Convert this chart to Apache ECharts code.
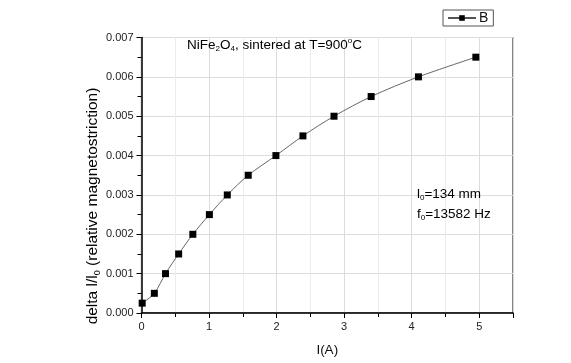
<!DOCTYPE html>
<html><head><meta charset="utf-8">
<script src="https://cdn.jsdelivr.net/npm/echarts@6/dist/echarts.min.js"></script>
<style>html,body{margin:0;padding:0;background:#fff}#c{width:571px;height:363px}</style>
</head><body><div id="c"></div>
<script>
var currentA = [0.01, 0.19, 0.355, 0.55, 0.76, 1.005, 1.27, 1.58, 1.99, 2.39, 2.85, 3.40, 4.10, 4.95];
var deltaL = [0.00025, 0.0005, 0.001, 0.0015, 0.002, 0.0025, 0.003, 0.0035, 0.004, 0.0045, 0.005, 0.0055, 0.006, 0.0065];
var seriesName = 'B';
var xTicks = [0, 1, 2, 3, 4, 5];
var yTicks = ['0.000','0.001','0.002','0.003','0.004','0.005','0.006','0.007'];

var F = 'Liberation Sans, Arial, sans-serif';
var data = currentA.map(function(x, i){ return [x, deltaL[i]]; });
var chart = echarts.init(document.getElementById('c'), null, {renderer:'canvas'});
chart.setOption({
  animation: false,
  backgroundColor: '#fff',
  grid: {left: 141.5, right: 58, top: 37.5, bottom: 50, show: true, borderColor: '#333', borderWidth: 1.2, backgroundColor: 'transparent'},
  legend: {
    data: [seriesName], left: 443, top: 10, itemWidth: 28, itemHeight: 7, itemGap: 4,
    borderColor: '#555', borderWidth: 1, padding: [1, 5, 1, 4], borderRadius: 0,
    textStyle: {fontFamily: F, fontSize: 14, color: '#111', padding: [0,0,0,-2]}
  },
  xAxis: {
    type: 'value', min: 0, max: 5.5, interval: 1,
    name: 'I(A)', nameLocation: 'middle', nameGap: 30,
    nameTextStyle: {fontFamily: F, fontSize: 13.5, color: '#111'},
    axisLine: {show: true, onZero: false, lineStyle: {color: '#000', width: 1.5}},
    axisTick: {show: true, inside: false, length: 5, lineStyle: {color: '#000', width: 1}},
    minorTick: {show: true, splitNumber: 2, length: 4, lineStyle: {color: '#000', width: 1}},
    axisLabel: {fontFamily: F, fontSize: 11, color: '#222', margin: 8, showMaxLabel: false,
      formatter: function(v){ return xTicks.indexOf(v) >= 0 ? String(v) : ''; }},
    splitLine: {show: true, lineStyle: {color: '#dcdcdc', width: 1}},
    minorSplitLine: {show: true, lineStyle: {color: '#ececec', width: 1}}
  },
  yAxis: {
    type: 'value', min: 0, max: 0.007, interval: 0.001,
    axisLine: {show: true, onZero: false, lineStyle: {color: '#000', width: 1.5}},
    axisTick: {show: true, inside: false, length: 5, lineStyle: {color: '#000', width: 1}},
    minorTick: {show: true, splitNumber: 2, length: 4, lineStyle: {color: '#000', width: 1}},
    axisLabel: {fontFamily: F, fontSize: 11, color: '#222', margin: 8,
      formatter: function(v){ return yTicks[Math.round(v/0.001)] || ''; }},
    splitLine: {show: true, lineStyle: {color: '#dcdcdc', width: 1}}
  },
  series: [{
    name: seriesName, type: 'line', data: data, smooth: 0.3,
    symbol: 'rect', symbolSize: 7,
    itemStyle: {color: '#000'},
    lineStyle: {color: '#555', width: 0.9}
  }],
  graphic: [
    {type: 'text', left: 187, top: 37, z: 100, style: {
      text: '{n|NiFe}{s|2}{n|O}{s|4}{n|, sintered at T=900}{p|o}{n|C}',
      rich: {
        n: {fontFamily: F, fontSize: 13.5, color: '#111'},
        s: {fontFamily: F, fontSize: 8, color: '#111', padding: [8,0,0,0]},
        p: {fontFamily: F, fontSize: 8, color: '#111', padding: [0,0,8,0]}
      }}},
    {type: 'text', left: 417, top: 187, z: 100, style: {
      text: '{n|l}{s|0}{n|=134 mm}',
      rich: {
        n: {fontFamily: F, fontSize: 13.5, color: '#111'},
        s: {fontFamily: F, fontSize: 8, color: '#111', padding: [8,0,0,0]}
      }}},
    {type: 'text', left: 417, top: 207, z: 100, style: {
      text: '{n|f}{s|0}{n|=13582 Hz}',
      rich: {
        n: {fontFamily: F, fontSize: 13.5, color: '#111'},
        s: {fontFamily: F, fontSize: 8, color: '#111', padding: [8,0,0,0]}
      }}},
    {type: 'text', x: 93, y: 206, rotation: Math.PI/2, z: 100, style: {
      text: '{n|delta l/l}{s|0}{n| (relative magnetostriction)}',
      align: 'center', verticalAlign: 'middle',
      rich: {
        n: {fontFamily: F, fontSize: 15.5, color: '#111'},
        s: {fontFamily: F, fontSize: 9, color: '#111', padding: [9,0,0,0]}
      }}}
  ]
});
</script></body></html>
